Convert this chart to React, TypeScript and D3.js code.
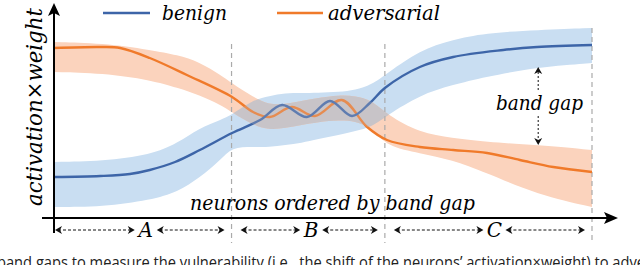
import React from 'react';
import * as d3 from 'd3';

// neuron rank (0..100) and activation x weight (0..100)
const benignRank = [0, 8.6, 14.1, 17.8, 22.5, 27.1, 33.1, 38.3, 42.4, 47, 51.3, 55.4, 58.7, 61.5, 68, 74.2, 83.5, 89.8, 100];
const benignMean = [20.5, 21, 22, 24, 28, 34, 42.5, 49, 56.5, 50.5, 58.5, 51, 57.5, 65, 75.5, 80.5, 84, 85.5, 86.5];

const advRank = [0, 8.6, 12.3, 17.8, 24.7, 33.1, 37, 40.1, 44.2, 48.5, 53.5, 58.2, 61.9, 68, 74.2, 80.5, 86.6, 92.8, 100];
const advMean = [85, 85.5, 85, 80, 71.5, 60.5, 53, 50.5, 55.5, 51, 59, 45.5, 39, 35.5, 34, 32.5, 29, 25.5, 23];

const bandRank = [0, 9, 18, 23, 27, 31, 33, 37, 40, 43, 46, 49, 53, 56, 59, 62, 68, 74, 80, 90, 100];
const benignHigh = [28, 28.5, 31.5, 37.5, 45, 49, 51.5, 59, 61, 62.5, 62.5, 62.5, 63, 64, 66.5, 72.5, 84, 89, 92.5, 94, 95];
const benignLow = [5.5, 5.5, 9, 13, 20, 29, 35.5, 35.5, 35.5, 36.5, 37.5, 39.5, 41.5, 43.5, 45.5, 51.5, 61.5, 66.5, 70.5, 75.5, 77.5];
const advHigh = [88, 87.5, 84, 81.5, 78, 71.5, 67.5, 60.5, 56.5, 57, 58.5, 60, 61.5, 61, 59, 51.5, 42.5, 40, 38, 36.5, 34];
const advLow = [73, 72.5, 69, 65, 61.5, 56.5, 53, 46.5, 44, 45, 46.5, 48, 49, 48.5, 45, 35.5, 32.5, 29, 23, 11.5, 5.5];

const regionBounds = [0, 33, 61.5, 100];
const regionNames = ['A', 'B', 'C'];
const gapIdx = 19; // band point where the gap arrow sits

const W = 640, H = 265;
const BLUE = '#3d65a8', ORANGE = '#f07a2a';
const BLUE_BAND = '#c9def2', ORANGE_BAND = '#fbd3bd', GRAY = '#c8c4c8';
const SERIF = '"DejaVu Serif", serif';

const x = d3.scaleLinear().domain([0, 100]).range([54, 592]);
const y = d3.scaleLinear().domain([0, 100]).range([218, 18]);

const line = d3.line<[number, number]>().x(d => x(d[0])).y(d => y(d[1])).curve(d3.curveCatmullRom.alpha(0.5));
const area = d3.area<number>()
    .x(i => x(bandRank[i]))
    .curve(d3.curveBasis);

const benignPath = line(benignRank.map((r, i) => [r, benignMean[i]]))!;
const advPath = line(advRank.map((r, i) => [r, advMean[i]]))!;
const idx = bandRank.map((_, i) => i);
const benignBand = area.y0(i => y(benignLow[i])).y1(i => y(benignHigh[i]))(idx)!;
const advBand = area.y0(i => y(advLow[i])).y1(i => y(advHigh[i]))(idx)!;

const DashArrow = ({ x1, x2, yy }: { x1: number, x2: number, yy: number }) => {
    const h = 4;
    return (
        <g>
            <line x1={x1 + 3} x2={x2 - 3} y1={yy} y2={yy} stroke="#111" strokeWidth={1} strokeDasharray="3,2" />
            <path d={`M${x1},${yy} L${x1 + 7},${yy - h} L${x1 + 5},${yy} L${x1 + 7},${yy + h} Z`} fill="#111" />
            <path d={`M${x2},${yy} L${x2 - 7},${yy - h} L${x2 - 5},${yy} L${x2 - 7},${yy + h} Z`} fill="#111" />
        </g>
    );
};

const App = () => {
    const segY = 230;
    const gx = x(bandRank[gapIdx]);
    const gTop = y(benignLow[gapIdx]);
    const gBot = y(advHigh[gapIdx]);
    return (
        <svg width={W} height={H} style={{ position: 'absolute', left: 0, top: 0, background: '#fff' }}>
            <defs>
                <clipPath id="advClip"><path d={advBand} /></clipPath>
            </defs>
            {/* bands */}
            <path d={benignBand} fill={BLUE_BAND} />
            <path d={advBand} fill={ORANGE_BAND} />
            <path d={benignBand} fill={GRAY} clipPath="url(#advClip)" />

            {/* region dividers */}
            {regionBounds.slice(1).map((r, i) => (
                <line key={i} x1={x(r)} x2={x(r)} y1={i === 2 ? 28 : 44} y2={243}
                    stroke="#aaa" strokeWidth={1.2} strokeDasharray="5,4" />
            ))}

            {/* mean lines */}
            <path d={advPath} fill="none" stroke={ORANGE} strokeWidth={2.4} />
            <path d={benignPath} fill="none" stroke={BLUE} strokeWidth={2.4} />
            <path d={benignBand} fill={GRAY} opacity={0.25} clipPath="url(#advClip)" />

            {/* axes */}
            <line x1={54} x2={54} y1={12} y2={233} stroke="#000" strokeWidth={2} />
            <path d="M54,3 L60,16 L54,13 L48,16 Z" fill="#000" />
            <line x1={42} x2={608} y1={218} y2={218} stroke="#000" strokeWidth={2} />
            <path d="M618,218 L604,224 L607,218 L604,212 Z" fill="#000" />

            <text transform="translate(42,107) rotate(-90)" textAnchor="middle" fontFamily={SERIF}
                fontStyle="italic" fontSize={22} textLength={198} lengthAdjust="spacingAndGlyphs">activation×weight</text>
            <text x={190} y={210} fontFamily={SERIF} fontStyle="italic" fontSize={20}
                textLength={285} lengthAdjust="spacingAndGlyphs">neurons ordered by band gap</text>

            {/* legend */}
            <line x1={103} x2={150} y1={13} y2={13} stroke={BLUE} strokeWidth={2.5} />
            <text x={162} y={20} fontFamily={SERIF} fontStyle="italic" fontSize={20}
                textLength={65} lengthAdjust="spacingAndGlyphs">benign</text>
            <line x1={277} x2={323} y1={13} y2={13} stroke={ORANGE} strokeWidth={2.5} />
            <text x={328} y={20} fontFamily={SERIF} fontStyle="italic" fontSize={20}
                textLength={112} lengthAdjust="spacingAndGlyphs">adversarial</text>

            {/* band gap annotation */}
            <line x1={gx} x2={gx} y1={gTop + 5} y2={91} stroke="#111" strokeWidth={1} strokeDasharray="2,2" />
            <line x1={gx} x2={gx} y1={116} y2={gBot - 5} stroke="#111" strokeWidth={1} strokeDasharray="2,2" />
            <path d={`M${gx},${gTop} L${gx - 4},${gTop + 7} L${gx},${gTop + 5} L${gx + 4},${gTop + 7} Z`} fill="#111" />
            <path d={`M${gx},${gBot} L${gx - 4},${gBot - 7} L${gx},${gBot - 5} L${gx + 4},${gBot - 7} Z`} fill="#111" />
            <text x={496} y={110} fontFamily={SERIF} fontStyle="italic" fontSize={20}
                textLength={87} lengthAdjust="spacingAndGlyphs">band gap</text>

            {/* region spans */}
            {regionNames.map((name, i) => {
                const a = x(regionBounds[i]) + (i === 0 ? 1 : 9);
                const b = x(regionBounds[i + 1]) - 7;
                const m = (x(regionBounds[i]) + x(regionBounds[i + 1])) / 2 + (i === 2 ? 6 : 3);
                return (
                    <g key={name}>
                        <DashArrow x1={a} x2={m - 11} yy={segY} />
                        <DashArrow x1={m + 11} x2={b} yy={segY} />
                        <text x={m} y={237} textAnchor="middle" fontFamily={SERIF} fontStyle="italic" fontSize={20}>{name}</text>
                    </g>
                );
            })}

            <text x={-3} y={268} fontFamily='"Open Sans", sans-serif' fontSize={16} fill="#222"
                textLength={648} lengthAdjust="spacingAndGlyphs">band gaps to measure the vulnerability (i.e., the shift of the neurons’ activation×weight) to adve</text>
        </svg>
    );
};

export default App;
